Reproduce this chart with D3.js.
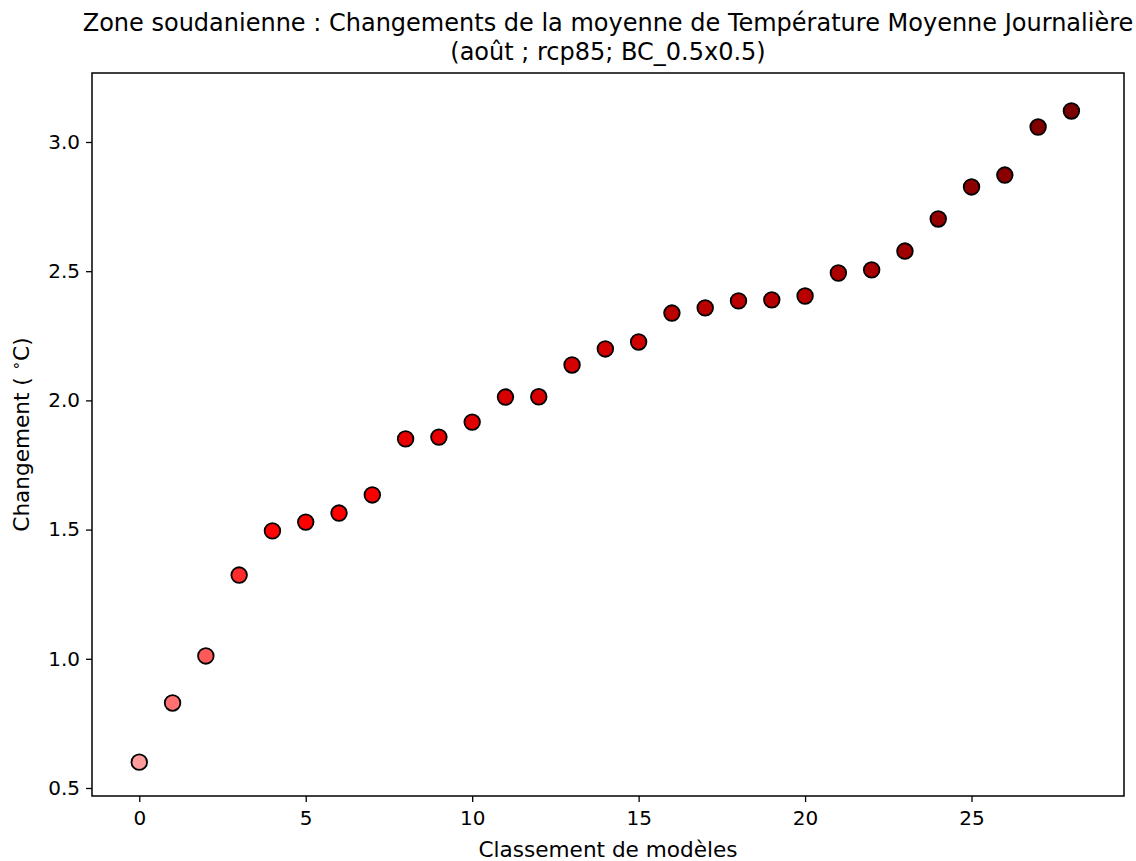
<!DOCTYPE html>
<html><head><meta charset="utf-8">
<script src="https://cdn.jsdelivr.net/npm/d3@7"></script>
<style>body{margin:0;background:#fff;} text{font-family:"DejaVu Sans",sans-serif;fill:#000;}</style>
</head><body>
<svg id="c" width="1136" height="861"></svg>
<script>
const ranks = d3.range(0, 29);
const values = [0.600, 0.829, 1.011, 1.324, 1.495, 1.529, 1.564, 1.634, 1.851, 1.858,
  1.916, 2.013, 2.014, 2.137, 2.199, 2.226, 2.338, 2.358, 2.385, 2.389,
  2.404, 2.493, 2.505, 2.578, 2.702, 2.826, 2.872, 3.058, 3.120];
const colors = ["#ff9c9c", "#ff7070", "#ff5a5a", "#ff2c2c", "#ff0505", "#ff0000", "#ff0000", "#fb0000", "#e80000", "#e60000",
  "#e00000", "#d80000", "#d80000", "#d50000", "#d30000", "#d00000", "#bb0000", "#bb0000", "#ba0000", "#b90000",
  "#b80000", "#aa0000", "#a80000", "#a00000", "#950000", "#8c0000", "#8a0000", "#800000", "#7a0000"];
const xTicks = [0, 5, 10, 15, 20, 25];
const yTicks = [0.5, 1.0, 1.5, 2.0, 2.5, 3.0];
const titleLines = ["Zone soudanienne : Changements de la moyenne de Température Moyenne Journalière", "(août ; rcp85; BC_0.5x0.5)"];
const xLabel = "Classement de modèles";
const yLabelParts = ["Changement ( ", "∘", "C)"];

const L = 92, R = 1124, T = 73, B = 796;
const svg = d3.select("#c");
const x = d3.scaleLinear().domain([-1.42, 29.58]).range([L, R]);
const y = d3.scaleLinear().domain([0.469, 3.267]).range([B, T]);

const fs = 20, lfs = 21.6, tfs = 24;
const xa = svg.append("g").attr("transform", `translate(0,${B})`)
  .call(d3.axisBottom(x).tickValues(xTicks).tickFormat(d3.format("d")).tickSize(6).tickPadding(9));
const ya = svg.append("g").attr("transform", `translate(${L},0)`)
  .call(d3.axisLeft(y).tickValues(yTicks).tickFormat(d3.format(".1f")).tickSize(6).tickPadding(6));
[xa, ya].forEach(a => {
  a.select(".domain").remove();
  a.selectAll("line").attr("stroke", "#000").attr("stroke-width", 1.3);
  a.selectAll("text").attr("font-family", "DejaVu Sans").attr("font-size", fs).attr("fill", "#000");
});

svg.append("rect").attr("x", L).attr("y", T).attr("width", R - L).attr("height", B - T)
  .attr("fill", "none").attr("stroke", "#000").attr("stroke-width", 1.5);

svg.append("g").selectAll("circle").data(ranks).join("circle")
  .attr("cx", d => x(d)).attr("cy", d => y(values[d])).attr("r", 7.8)
  .attr("fill", d => colors[d]).attr("stroke", "#000").attr("stroke-width", 1.8);

svg.append("text").attr("x", (L + R) / 2).attr("y", 31).attr("text-anchor", "middle")
  .attr("font-size", tfs).text(titleLines[0]);
svg.append("text").attr("x", (L + R) / 2).attr("y", 60).attr("text-anchor", "middle")
  .attr("font-size", tfs).text(titleLines[1]);
svg.append("text").attr("x", (L + R) / 2).attr("y", 857).attr("text-anchor", "middle")
  .attr("font-size", lfs).text(xLabel);
const yl = svg.append("text").attr("transform", `translate(29,${(T + B) / 2}) rotate(-90)`).attr("text-anchor", "middle")
  .attr("font-size", lfs);
yl.append("tspan").text(yLabelParts[0]);
yl.append("tspan").attr("font-size", lfs * 0.7).attr("dy", -8).text(yLabelParts[1]);
yl.append("tspan").attr("dy", 8).text(yLabelParts[2]);
</script>
</body></html>
